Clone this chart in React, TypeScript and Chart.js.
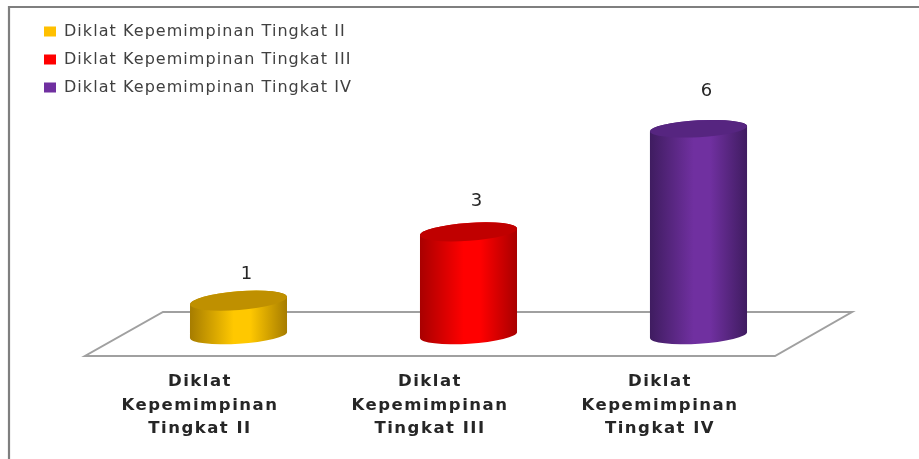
import React, { useEffect, useRef } from "react";
import { Chart, registerables } from "chart.js";

Chart.register(...registerables);

const categories = [
  ["Diklat", "Kepemimpinan", "Tingkat II"],
  ["Diklat", "Kepemimpinan", "Tingkat III"],
  ["Diklat", "Kepemimpinan", "Tingkat IV"],
];
const seriesNames = [
  "Diklat Kepemimpinan Tingkat II",
  "Diklat Kepemimpinan Tingkat III",
  "Diklat Kepemimpinan Tingkat IV",
];
const tingkatII = [1, null, null];
const tingkatIII = [null, 3, null];
const tingkatIV = [null, null, 6];
const baseColors = ["#FFC800", "#FF0000", "#7030A0"];
const legendColors = ["#FFC000", "#FF0000", "#7030A0"];
const capColors = ["#BF9000", "#C00000", "#562580"];
const edgeColors = ["#A67C00", "#A80000", "#3F1C60"];

const DEPTH_X = 38.5;
const DEPTH_Y = 21;
const BASE_TILT = -0.062;
const BASE_RY = 8.8;

const withSpacing = (ctx: any, spacing: string, draw: () => void) => {
  ctx.letterSpacing = spacing;
  draw();
  ctx.letterSpacing = "0px";
};

const chartPlugin = {
  id: "cylinders",
  afterLayout(chart: any) {
    const l = chart.legend;
    const { ctx } = chart;
    if (l) {
      l.left = 32;
      l.top = 11.5;
      l.width = 400;
      l.height = 110;
      l.right = l.left + l.width;
      l.bottom = l.top + l.height;
      const drawLegend = l.draw;
      if (!l.__spaced) {
        l.__spaced = true;
        l.draw = function (...a: any[]) {
          withSpacing(ctx, "1.05px", () => drawLegend.apply(l, a));
        };
      }
    }
    const sx = chart.scales.x;
    if (!sx.__spaced) {
      sx.__spaced = true;
      const drawLabels = sx.drawLabels;
      sx.drawLabels = function (...a: any[]) {
        withSpacing(ctx, "1.5px", () => drawLabels.apply(sx, a));
      };
    }
  },
  beforeDatasetsDraw(chart: any) {
    const { ctx, chartArea } = chart;
    const b = chartArea.bottom;
    ctx.save();
    ctx.strokeStyle = "#A0A0A0";
    ctx.lineWidth = 2;
    ctx.beginPath();
    ctx.moveTo(chartArea.left, b);
    ctx.lineTo(chartArea.right, b);
    ctx.lineTo(chartArea.right + 77, b - 44);
    ctx.lineTo(chartArea.left + 78, b - 44);
    ctx.closePath();
    ctx.stroke();
    ctx.restore();
  },
  beforeDatasetDraw(chart: any, args: any) {
    const { ctx } = chart;
    const i = args.index;
    const ds = chart.data.datasets[i];
    args.meta.data.forEach((el: any, k: number) => {
      const v = ds.data[k];
      if (v == null) return;
      const cx = el.x + DEPTH_X;
      const top = el.y - DEPTH_Y;
      const base = el.base - DEPTH_Y;
      const rx = el.width / 2 + 0.1;
      const capRy = 9.6 - 0.2 * v;
      const capTilt = -(0.085 - 0.005 * v);
      const g = ctx.createLinearGradient(cx - rx, 0, cx + rx, 0);
      g.addColorStop(0, edgeColors[i]);
      g.addColorStop(0.45, baseColors[i]);
      g.addColorStop(0.62, baseColors[i]);
      g.addColorStop(1, edgeColors[i]);
      ctx.save();
      ctx.fillStyle = g;
      ctx.beginPath();
      ctx.ellipse(cx, base, rx, BASE_RY, BASE_TILT, 0, Math.PI);
      ctx.ellipse(cx, top, rx, capRy, capTilt, Math.PI, Math.PI * 2);
      ctx.closePath();
      ctx.fill();
      ctx.fillStyle = capColors[i];
      ctx.beginPath();
      ctx.ellipse(cx, top, rx, capRy, capTilt, 0, Math.PI * 2);
      ctx.fill();
      ctx.fillStyle = "#262626";
      ctx.font = '18px "DejaVu Sans"';
      ctx.textAlign = "center";
      ctx.textBaseline = "middle";
      ctx.fillText(String(v), cx + 8, el.y - 45 - 2.2 * v);
      ctx.restore();
    });
    return false;
  },
  afterDraw(chart: any) {
    const { ctx, width, height } = chart;
    ctx.save();
    ctx.strokeStyle = "#7F7F7F";
    ctx.lineWidth = 2.2;
    ctx.beginPath();
    ctx.moveTo(9, height);
    ctx.lineTo(9, 7);
    ctx.lineTo(width, 7);
    ctx.stroke();
    ctx.restore();
  },
};

export default function App() {
  const ref = useRef<HTMLCanvasElement>(null);
  useEffect(() => {
    const chart = new Chart(ref.current as HTMLCanvasElement, {
      type: "bar",
      data: {
        labels: categories,
        datasets: [tingkatII, tingkatIII, tingkatIV].map((data, i) => ({
          label: seriesNames[i],
          data,
          backgroundColor: legendColors[i],
          borderWidth: 0,
        })),
      } as any,
      options: {
        animation: false,
        responsive: false,
        devicePixelRatio: 1,
        layout: { padding: { left: 85, right: 144, top: 81, bottom: 0 } },
        datasets: { bar: { barPercentage: 0.422, categoryPercentage: 1 } },
        scales: {
          x: {
            stacked: true,
            grid: { display: false },
            border: { display: false },
            afterFit: (s: any) => {
              s.height = 103;
            },
            ticks: {
              padding: 6,
              maxRotation: 0,
              autoSkip: false,
              color: "#262626",
              font: { family: "DejaVu Sans", weight: "bold", size: 16.5, lineHeight: 1.424 },
            },
          },
          y: { stacked: true, display: false, min: 0, max: 8 },
        },
        plugins: {
          tooltip: { enabled: false },
          legend: {
            position: "chartArea",
            align: "start",
            labels: {
              boxWidth: 12,
              boxHeight: 10,
              padding: 12,
              color: "#404040",
              font: { family: "DejaVu Sans", size: 16 },
            },
          },
        },
      } as any,
      plugins: [chartPlugin as any],
    });
    return () => chart.destroy();
  }, []);
  return (
    <canvas
      ref={ref}
      width={919}
      height={459}
      style={{ position: "absolute", left: 0, top: 0, display: "block", filter: "blur(0.4px)" }}
    />
  );
}
